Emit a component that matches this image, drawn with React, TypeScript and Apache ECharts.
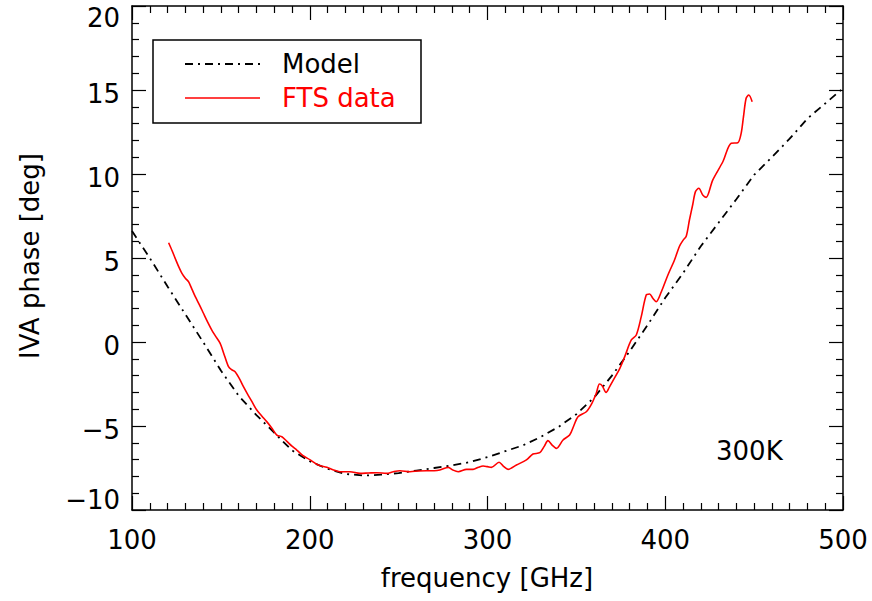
import React, { useEffect, useRef } from "react";
import * as echarts from "echarts";

const modelFreq = [100, 110, 120, 130, 140, 150, 160, 170, 180, 190, 200, 210, 220, 230, 240, 250, 260, 270, 280, 290, 300, 310, 320, 330, 340, 350, 360, 370, 380, 390, 400, 410, 420, 430, 440, 450, 460, 470, 480, 490, 500];
const modelPhase = [6.6, 5.0, 3.3, 1.65, 0.0, -1.7, -3.2, -4.35, -5.4, -6.45, -7.1, -7.55, -7.85, -7.95, -7.9, -7.8, -7.65, -7.5, -7.35, -7.15, -6.85, -6.5, -6.15, -5.65, -5.05, -4.3, -3.3, -2.0, -0.55, 1.0, 2.63, 4.1, 5.7, 7.1, 8.5, 9.95, 11.0, 12.1, 13.3, 14.2, 15.1];

const ftsFreq = [120.6, 122.5, 124.3, 126, 128.1, 130, 131.8, 133.7, 135.6, 138, 140.2, 142.5, 144.9, 147, 149.6, 152, 154.3, 156, 158, 160.5, 162.7, 165, 167.5, 170.2, 173, 175.8, 178.5, 181.5, 184.3, 187, 190, 192.7, 196, 200, 204.8, 209.6, 213, 217, 222.6, 228.3, 233, 237.6, 243.3, 247, 250.7, 256.4, 261, 265.7, 270, 273.2, 277.9, 280.5, 283.5, 288.2, 291.9, 295, 297.5, 300, 302.2, 306.5, 309, 311.6, 316.3, 321.9, 325.6, 329.4, 332, 334, 336.5, 338.8, 342.5, 346.2, 348.5, 350.9, 355.6, 358.5, 361.2, 363, 364.5, 366.7, 368.5, 370.6, 374.3, 377.1, 380.9, 383.7, 386.5, 389.3, 391.2, 393, 394.9, 397.8, 401.5, 405.2, 408, 410, 411.8, 413.6, 415.5, 417, 418.9, 421.1, 423, 426.7, 432.4, 437.1, 440.8, 442.7, 444, 445.5, 447, 448.9];
const ftsPhase = [5.91, 5.45, 4.98, 4.55, 4.09, 3.8, 3.59, 3.15, 2.7, 2.2, 1.71, 1.2, 0.71, 0.35, -0.08, -0.8, -1.47, -1.65, -1.77, -2.2, -2.66, -3.1, -3.55, -4.05, -4.4, -4.74, -5.1, -5.54, -5.64, -5.9, -6.2, -6.43, -6.75, -7.0, -7.32, -7.46, -7.6, -7.72, -7.72, -7.82, -7.8, -7.78, -7.82, -7.72, -7.66, -7.72, -7.68, -7.66, -7.66, -7.62, -7.46, -7.62, -7.72, -7.58, -7.58, -7.45, -7.38, -7.42, -7.46, -7.16, -7.4, -7.58, -7.32, -7.02, -6.67, -6.59, -6.2, -5.87, -6.15, -6.33, -5.83, -5.54, -5.0, -4.45, -4.15, -3.7, -3.05, -2.5, -2.6, -3.0, -2.7, -2.3, -1.6, -0.9, 0.12, 0.42, 1.51, 2.8, 2.86, 2.6, 2.4, 2.99, 3.99, 4.88, 5.7, 6.05, 6.3, 7.26, 8.2, 8.95, 9.15, 8.75, 8.61, 9.64, 10.73, 11.83, 11.86, 12.42, 13.4, 14.51, 14.7, 14.3];

const xTicks = [100, 200, 300, 400, 500];
const yTicks = [-10, -5, 0, 5, 10, 15, 20];

const FONT = "DejaVu Sans";
const FS = 26;

export default function App() {
  const ref = useRef<HTMLDivElement>(null);
  useEffect(() => {
    if (!ref.current) return;
    const chart = echarts.init(ref.current, null, { renderer: "svg" });
    const axisLine = { show: true, onZero: false, lineStyle: { color: "#000", width: 1.5 } };
    const axisTick = { show: true, inside: true, length: 14, lineStyle: { color: "#000", width: 1.2 } };
    const minorTickX = { show: true, splitNumber: 10, length: 7, lineStyle: { color: "#000", width: 1.2 } };
    const minorTickY = { show: true, splitNumber: 5, length: 7, lineStyle: { color: "#000", width: 1.2 } };
    const fmt = (v: number) => (v < 0 ? "\u2212" + Math.abs(v) : String(v));
    const xMin = xTicks[0], xMax = xTicks[xTicks.length - 1];
    const yMin = yTicks[0], yMax = yTicks[yTicks.length - 1];
    const richBase = { fontFamily: FONT, fontSize: FS, color: "#000" };
    chart.setOption({
      animation: false,
      grid: { left: 132, right: 29, top: 6, bottom: 91, containLabel: false },
      xAxis: [
        {
          type: "value", position: "bottom", min: xMin, max: xMax, interval: 100,
          axisLine, axisTick, minorTick: minorTickX, splitLine: { show: false },
          axisLabel: { show: true, margin: 17, fontFamily: FONT, fontSize: FS, color: "#000" },
        },
        {
          type: "value", position: "top", min: xMin, max: xMax, interval: 100,
          axisLine, axisTick, minorTick: minorTickX, splitLine: { show: false },
          axisLabel: { show: false },
        },
      ],
      yAxis: [
        {
          type: "value", position: "left", min: yMin, max: yMax, interval: 5,
          axisLine, axisTick, minorTick: minorTickY, splitLine: { show: false },
          axisLabel: {
            show: true, margin: 12,
            formatter: (v: number) => {
              const s = fmt(v);
              if (v === yMax) return `{t|${s}}`;
              if (v === yMin) return `{b|${s}}`;
              return `{n|${s}}`;
            },
            rich: {
              n: { ...richBase, padding: [8, 0, 0, 0] },
              t: { ...richBase, padding: [24, 0, 0, 0] },
              b: { ...richBase, padding: [0, 0, 20, 0] },
            },
          },
        },
        {
          type: "value", position: "right", min: yMin, max: yMax, interval: 5,
          axisLine, axisTick, minorTick: minorTickY, splitLine: { show: false },
          axisLabel: { show: false },
        },
      ],
      series: [
        {
          name: "Model", type: "line", xAxisIndex: 0, yAxisIndex: 0, showSymbol: false, smooth: false,
          data: modelFreq.map((f, i) => [f, modelPhase[i]]),
          lineStyle: { color: "#000", width: 1.8, type: [8, 5, 2, 5] },
          z: 3,
        },
        {
          name: "FTS data", type: "line", xAxisIndex: 0, yAxisIndex: 0, showSymbol: false, smooth: 0.3,
          data: ftsFreq.map((f, i) => [f, ftsPhase[i]]),
          lineStyle: { color: "#ff0000", width: 1.6 },
          z: 4,
        },
      ],
      graphic: [
        { type: "rect", shape: { x: 153, y: 40, width: 268, height: 83 }, style: { fill: "#fff", stroke: "#000", lineWidth: 1.5 }, z: 10 },
        { type: "line", shape: { x1: 185, y1: 64, x2: 260, y2: 64 }, style: { stroke: "#000", lineWidth: 1.8, lineDash: [8, 5, 2, 5] }, z: 11 },
        { type: "line", shape: { x1: 185, y1: 98, x2: 260, y2: 98 }, style: { stroke: "#ff0000", lineWidth: 1.6 }, z: 11 },
        { type: "text", x: 282, y: 64, style: { text: "Model", fill: "#000", font: `${FS}px "${FONT}"`, textVerticalAlign: "middle", textAlign: "left" }, z: 11 },
        { type: "text", x: 282, y: 98, style: { text: "FTS data", fill: "#ff0000", font: `${FS}px "${FONT}"`, textVerticalAlign: "middle", textAlign: "left" }, z: 11 },
        { type: "text", x: 716, y: 451, style: { text: "300K", fill: "#000", font: `${FS}px "${FONT}"`, textVerticalAlign: "middle", textAlign: "left" }, z: 11 },
        { type: "text", x: 487, y: 578, style: { text: "frequency [GHz]", fill: "#000", font: `${FS}px "${FONT}"`, textVerticalAlign: "middle", textAlign: "center" }, z: 11 },
        { type: "text", x: 30, y: 256, rotation: Math.PI / 2, style: { text: "IVA phase [deg]", fill: "#000", font: `${FS}px "${FONT}"`, textVerticalAlign: "middle", textAlign: "center" }, z: 11 },
      ],
    });
    return () => chart.dispose();
  }, []);
  return <div ref={ref} style={{ position: "fixed", left: 0, top: 0, width: 872, height: 601, background: "#fff" }} />;
}
